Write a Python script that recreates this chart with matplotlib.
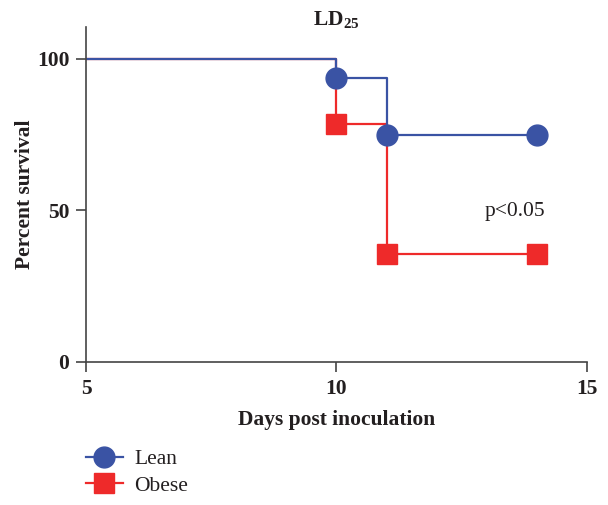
import numpy as np
import matplotlib.pyplot as plt

plt.rcParams['font.family'] = ['Liberation Serif', 'DejaVu Serif']
plt.rcParams['mathtext.fontset'] = 'custom'
plt.rcParams['mathtext.rm'] = 'Liberation Serif'
plt.rcParams['mathtext.bf'] = 'Liberation Serif:bold'

# Kaplan-Meier survival data (percent)
days_steps = [5, 10, 11, 14]
lean_surv = [100, 93.75, 75, 75]
obese_surv = [100, 78.6, 35.7, 35.7]
marker_days = [10, 11, 14]
lean_marks = [93.75, 75, 75]
obese_marks = [78.6, 35.7, 35.7]

blue = '#3a53a4'
red = '#ee2a2a'
txt = '#231f20'

fig = plt.figure(figsize=(6.08, 5.05), dpi=100)
ax = fig.add_axes([0.1414, 0.2832, 0.824, 0.6633])

ax.step(days_steps, obese_surv, where='post', color=red, lw=1.6)
ax.plot(marker_days, obese_marks, 's', color=red, ms=14.5, ls='none')
ax.step(days_steps, lean_surv, where='post', color=blue, lw=1.6)
ax.plot(marker_days, lean_marks, 'o', color=blue, ms=15, ls='none')

# legend handles
ax.plot([], [], color=blue, lw=1.6, marker='o', ms=15, label='Lean')
ax.plot([], [], color=red, lw=1.6, marker='s', ms=14.5, label='Obese')

ax.set_xlim(5, 15)
ax.set_ylim(0, 110.5)
ax.set_xticks([5, 10, 15])
ax.set_yticks([0, 50, 100])
ax.spines['top'].set_visible(False)
ax.spines['right'].set_visible(False)
for s in ['left', 'bottom']:
    ax.spines[s].set_color('#444444')
    ax.spines[s].set_linewidth(1.2)
ax.tick_params(direction='out', length=7, width=1.2, color='#444444',
               labelsize=15.5, pad=5)
for lab in ax.get_xticklabels() + ax.get_yticklabels():
    lab.set_fontweight('bold')
    lab.set_color(txt)

ax.set_xlabel('Days post inoculation', fontsize=15.5, fontweight='bold',
              color=txt, labelpad=8)
ax.set_ylabel('Percent survival', fontsize=15.5, fontweight='bold',
              color=txt, labelpad=1)
ax.set_title(r'LD$_{\mathbf{25}}$', fontsize=15.5, fontweight='bold',
             color=txt, pad=-3, y=1.0, va='bottom')

ax.text(13.56, 49.8, 'p<0.05', fontsize=15.5, color=txt,
        ha='center', va='center')

fig.legend(loc='upper left', bbox_to_anchor=(86 / 608, 1 - 449 / 505),
           frameon=False, fontsize=15.5, handlelength=1.7,
           handletextpad=0.55, labelspacing=0.3, borderpad=0,
           borderaxespad=0, labelcolor=txt)

fig.savefig('out.png', dpi=100)
